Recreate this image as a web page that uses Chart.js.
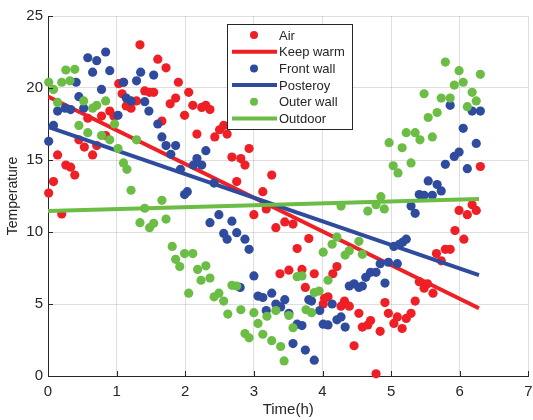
<!DOCTYPE html>
<html>
<head>
<meta charset="utf-8">
<script src="https://cdn.jsdelivr.net/npm/chart.js@4.4.1/dist/chart.umd.min.js"></script>
<style>
  html, body { margin: 0; padding: 0; background: #fff; }
  #wrap { width: 533px; height: 420px; }
</style>
</head>
<body>
<div id="wrap"><canvas id="chart" width="533" height="420"></canvas></div>
<script>
// measured points [time(h), temperature]
const airPts = [[0.01,12.7],[0.08,13.5],[0.14,15.35],[0.20,11.25],[0.26,14.65],[0.33,14.5],[0.39,13.95],[0.45,16.4],[0.53,15.9],[0.58,17.9],[0.65,15.35],[0.71,16.0],[0.78,18.05],[0.84,16.7],[0.90,18.4],[0.96,18.05],[1.03,20.3],[1.08,19.6],[1.10,20.4],[1.14,18.75],[1.21,18.6],[1.29,19.1],[1.34,23.0],[1.41,19.8],[1.48,19.7],[1.54,19.7],[1.60,22.0],[1.66,17.7],[1.72,21.4],[1.78,18.9],[1.86,19.3],[1.90,20.4],[1.99,18.1],[2.05,19.7],[2.11,18.8],[2.17,16.8],[2.24,18.65],[2.30,18.8],[2.36,18.5],[2.43,16.6],[2.50,17.1],[2.56,17.4],[2.61,16.8],[2.68,15.2],[2.75,13.5],[2.81,15.1],[2.87,14.65],[2.93,15.8],[3.00,11.2],[3.13,12.8],[3.18,11.6],[3.26,13.95],[3.32,10.3],[3.38,7.1],[3.45,10.7],[3.51,7.35],[3.57,10.55],[3.63,8.85],[3.70,7.4],[3.75,6.15],[3.80,9.55],[3.88,7.1],[4.01,5.0],[4.03,5.4],[4.08,5.5],[4.15,7.1],[4.21,7.6],[4.27,4.85],[4.32,5.2],[4.39,4.85],[4.46,2.1],[4.53,4.35],[4.58,3.4],[4.66,3.55],[4.70,3.85],[4.78,0.15],[4.84,3.1],[4.91,5.1],[4.96,4.35],[5.04,3.65],[5.09,4.1],[5.16,3.3],[5.22,4.0],[5.29,4.35],[5.35,5.2],[5.41,6.55],[5.48,6.1],[5.53,6.4],[5.61,5.75],[5.66,8.5],[5.73,8.0],[5.79,8.8],[5.86,8.8],[5.93,10.1],[5.99,11.5],[6.06,9.5],[6.11,11.2],[6.18,11.9],[6.24,11.5],[6.30,14.55]];

const frontPts = [[0.01,16.3],[0.08,17.4],[0.14,18.4],[0.25,18.6],[0.33,18.5],[0.41,20.4],[0.45,19.4],[0.52,18.6],[0.58,22.1],[0.65,21.1],[0.71,21.9],[0.78,19.9],[0.84,22.5],[0.90,21.2],[1.02,18.1],[1.10,20.4],[1.14,19.3],[1.21,19.1],[1.29,20.5],[1.35,21.1],[1.41,19.05],[1.47,18.4],[1.54,20.9],[1.60,17.5],[1.66,16.6],[1.72,16.0],[1.79,15.4],[1.86,16.0],[1.93,14.35],[1.99,12.6],[2.03,12.8],[2.12,14.65],[2.17,15.1],[2.24,14.65],[2.30,15.65],[2.36,10.65],[2.42,13.4],[2.49,11.2],[2.56,9.9],[2.61,9.5],[2.68,10.75],[2.75,9.95],[2.80,6.15],[2.87,9.5],[2.93,8.8],[3.00,6.95],[3.06,5.55],[3.13,5.45],[3.18,4.55],[3.26,5.75],[3.32,5.0],[3.39,4.8],[3.45,5.3],[3.51,4.35],[3.57,2.25],[3.63,3.6],[3.70,3.5],[3.75,1.8],[3.80,5.3],[3.84,5.2],[3.88,1.1],[3.96,4.55],[4.01,3.6],[4.08,3.55],[4.14,5.0],[4.21,3.9],[4.27,4.1],[4.33,3.4],[4.39,6.25],[4.46,6.4],[4.53,6.15],[4.58,6.25],[4.63,6.85],[4.70,7.2],[4.78,7.2],[4.84,7.8],[4.91,6.45],[4.96,7.9],[5.04,9.0],[5.09,7.8],[5.12,9.15],[5.17,9.3],[5.22,9.5],[5.29,11.8],[5.35,11.3],[5.41,12.6],[5.48,12.55],[5.54,13.55],[5.60,12.55],[5.67,13.3],[5.73,12.85],[5.79,14.7],[5.86,18.8],[5.92,15.25],[5.99,15.55],[6.05,17.2],[6.11,14.4],[6.18,18.4],[6.24,16.15],[6.30,18.4]];

const outerPts = [[0.01,20.4],[0.08,19.9],[0.14,19.0],[0.20,20.4],[0.26,21.25],[0.32,20.5],[0.39,21.3],[0.45,17.4],[0.52,19.1],[0.58,16.9],[0.65,18.6],[0.71,18.8],[0.78,16.7],[0.84,19.1],[0.90,16.4],[0.97,17.5],[1.02,15.8],[1.10,14.8],[1.15,14.35],[1.21,12.9],[1.29,16.4],[1.34,10.65],[1.41,11.65],[1.48,10.3],[1.54,10.6],[1.66,12.2],[1.72,10.9],[1.81,9.0],[1.86,8.1],[1.92,7.6],[1.99,8.5],[2.05,5.75],[2.11,8.5],[2.18,7.4],[2.23,6.65],[2.30,7.65],[2.36,6.8],[2.42,5.5],[2.49,5.75],[2.56,5.2],[2.62,4.3],[2.68,6.3],[2.75,6.25],[2.81,4.6],[2.87,2.95],[2.93,2.65],[3.00,4.4],[3.06,3.65],[3.13,2.9],[3.19,4.15],[3.26,2.45],[3.32,4.55],[3.39,2.05],[3.44,1.05],[3.51,4.2],[3.57,3.35],[3.63,6.9],[3.70,6.95],[3.76,4.6],[3.84,4.4],[3.88,5.8],[3.95,5.9],[4.01,8.6],[4.08,6.65],[4.14,9.15],[4.21,9.65],[4.27,11.8],[4.33,8.4],[4.39,8.7],[4.53,9.35],[4.58,8.45],[4.66,11.45],[4.78,11.9],[4.85,12.45],[4.90,11.6],[4.97,16.2],[5.03,14.6],[5.10,14.1],[5.16,15.85],[5.22,16.9],[5.29,14.8],[5.35,16.9],[5.42,16.4],[5.48,19.6],[5.54,17.95],[5.60,16.6],[5.67,18.3],[5.73,19.3],[5.79,21.8],[5.86,19.3],[5.92,20.2],[5.99,21.2],[6.05,20.4],[6.11,18.7],[6.18,19.7],[6.24,19.1],[6.30,20.95]];

// fitted lines (start / end)
const keepWarmLine = [[0, 19.4], [6.28, 4.7]];
const posteroyLine = [[0, 17.3], [6.28, 7.0]];
const outdoorLine = [[0, 11.45], [6.28, 12.3]];

const seriesNames = ["Air", "Keep warm", "Front wall", "Posteroy", "Outer wall", "Outdoor"];

const RED = "#ee1f25", BLUE = "#2f4b9d", GREEN = "#6cbd45", INK = "#262626";
const FONT = "'Liberation Sans', Arial, sans-serif";

const toXY = pts => pts.map(p => ({ x: p[0], y: p[1] }));

function pointSet(label, pts, color, order) {
    return { label, data: toXY(pts), backgroundColor: color, borderWidth: 0, clip: false,
             pointRadius: 4.6, pointHoverRadius: 4.6, showLine: false, order };
}
function lineSet(label, pts, color, order) {
    return { label, data: toXY(pts), borderColor: color, backgroundColor: color, borderWidth: 4,
             pointRadius: 0, showLine: true, order };
}

// legend box drawn inside plot, MATLAB style
const boxLegend = {
    id: 'boxLegend',
    afterDraw(chart) {
        const ctx = chart.ctx;
        const x0 = 227, y0 = 24, w = 125, h = 105, row = 16.7;
        ctx.save();
        ctx.fillStyle = "#fff";
        ctx.fillRect(x0, y0, w, h);
        ctx.strokeStyle = INK;
        ctx.lineWidth = 1;
        ctx.strokeRect(x0 + 0.5, y0 + 0.5, w, h);
        chart.data.datasets.forEach((ds, i) => {
            const cy = y0 + 11 + i * row;
            if (ds.showLine) {
                ctx.strokeStyle = ds.borderColor;
                ctx.lineWidth = 4;
                ctx.beginPath();
                ctx.moveTo(x0 + 5, cy);
                ctx.lineTo(x0 + 50, cy);
                ctx.stroke();
            } else {
                ctx.fillStyle = ds.backgroundColor;
                ctx.beginPath();
                ctx.arc(x0 + 27, cy, 4, 0, Math.PI * 2);
                ctx.fill();
            }
            ctx.fillStyle = INK;
            ctx.font = "13px " + FONT;
            ctx.textAlign = "left";
            ctx.textBaseline = "middle";
            ctx.fillText(ds.label, x0 + 52, cy + 1);
        });
        ctx.restore();
    }
};

// short inward tick marks
const innerTicks = {
    id: 'innerTicks',
    afterDraw(chart) {
        const ctx = chart.ctx, a = chart.chartArea;
        const xs = chart.scales.x, ys = chart.scales.y;
        ctx.save();
        ctx.strokeStyle = INK;
        ctx.lineWidth = 1;
        ctx.beginPath();
        xs.ticks.forEach(t => {
            const px = Math.round(xs.getPixelForValue(t.value)) + 0.5;
            ctx.moveTo(px, a.bottom);
            ctx.lineTo(px, a.bottom - 5);
        });
        ys.ticks.forEach(t => {
            const py = Math.round(ys.getPixelForValue(t.value)) + 0.5;
            ctx.moveTo(a.left, py);
            ctx.lineTo(a.left + 5, py);
        });
        ctx.stroke();
        ctx.restore();
    }
};

new Chart(document.getElementById("chart"), {
    type: 'scatter',
    data: {
        datasets: [
            pointSet(seriesNames[0], airPts, RED, 5),
            lineSet(seriesNames[1], keepWarmLine, RED, 4),
            pointSet(seriesNames[2], frontPts, BLUE, 3),
            lineSet(seriesNames[3], posteroyLine, BLUE, 2),
            pointSet(seriesNames[4], outerPts, GREEN, 1),
            lineSet(seriesNames[5], outdoorLine, GREEN, 0)
        ]
    },
    options: {
        responsive: false,
        animation: false,
        layout: { padding: { top: 16, right: 1, left: 0, bottom: 0 } },
        scales: {
            x: {
                type: 'linear', min: 0, max: 7,
                ticks: { stepSize: 1, color: INK, padding: 7, font: { size: 15, family: FONT } },
                grid: { color: "rgba(0,0,0,0.13)", drawTicks: false },
                border: { display: true, color: INK, width: 1 },
                title: { display: true, text: "Time(h)", color: INK, padding: { top: 0, bottom: 1 },
                         font: { size: 15, family: FONT } },
                afterFit: s => { s.height = 44; s.paddingLeft = 0; s.paddingRight = 0; }
            },
            y: {
                min: 0, max: 25,
                ticks: { stepSize: 5, color: INK, padding: 5, font: { size: 15, family: FONT } },
                grid: { color: "rgba(0,0,0,0.13)", drawTicks: false },
                border: { display: true, color: INK, width: 1 },
                title: { display: true, text: "Temperature", color: INK, padding: { top: 5, bottom: 0 },
                         font: { size: 14, family: FONT } },
                afterFit: s => { s.width = 48; s.paddingTop = 0; s.paddingBottom = 0; }
            }
        },
        plugins: {
            legend: { display: false },
            tooltip: { enabled: false }
        }
    },
    plugins: [innerTicks, boxLegend]
});
</script>
</body>
</html>
